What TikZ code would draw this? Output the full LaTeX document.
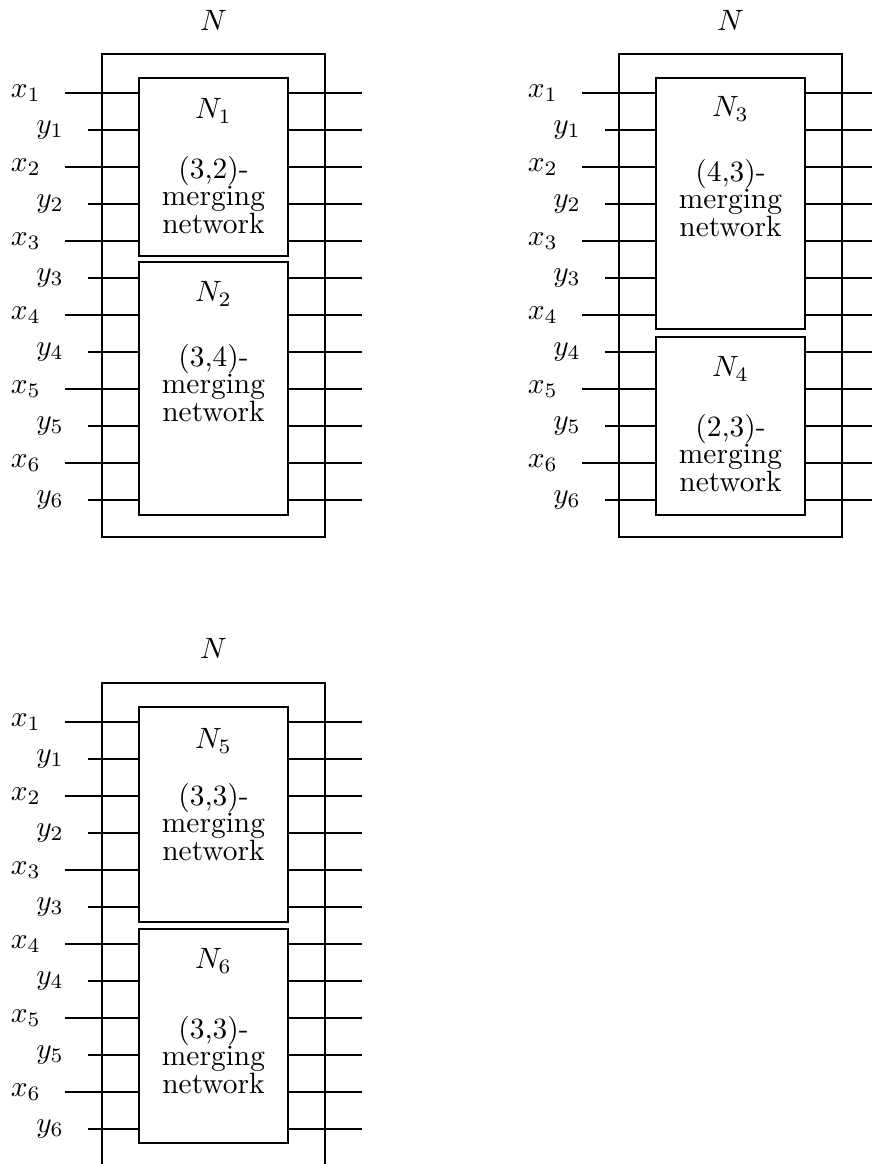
\documentclass[tikz,border=0pt]{standalone}
\usetikzlibrary{positioning,fit,calc}

\tikzset{
  wire/.style={line width=0.75pt},
  outerbox/.style={draw, line width=0.8pt, inner sep=0pt},
  netbox/.style={draw, line width=0.8pt, inner sep=0pt},
  pinlabel/.style={inner sep=0pt},
  blocktext/.style={align=center, inner sep=0pt, anchor=north,
    font=\fontsize{10pt}{9.3pt}\selectfont}
}

\begin{document}
\begin{tikzpicture}[x=0.34pt,y=0.34pt]
    \path[use as bounding box] (0,-1164) rectangle (872,0);
    \clip (0,-1164) rectangle (872,0);

    % N = N1 + N2
    \begin{scope}
        \node[outerbox, fit={(102,-54) (325,-537)}] (a0) {};
        \node[pinlabel, above=7.5pt of a0.north] (aN) {$N$};
        \node[netbox, fit={(139,-78) (288,-256)}] (a1) {};
        \node[netbox, fit={(139,-262) (288,-515)}] (a2) {};
        \node[pinlabel] (a1N) at ($(a1.north)+(0,-34)$) {$N_1$};
        \node[blocktext] (a1t) at ($(a1.north)+(0,-79)$) {(3,2)-\\merging\\network};
        \node[pinlabel] (a2N) at ($(a2.north)+(0,-33)$) {$N_2$};
        \node[blocktext] (a2t) at ($(a2.north)+(0,-83)$) {(3,4)-\\merging\\network};
        \foreach \i in {1,...,6} {
            \coordinate (ax\i) at (65,{-93-74*(\i-1)});
            \coordinate (ay\i) at (88,{-130-74*(\i-1)});
            \node[pinlabel, left=8pt of ax\i] (axl\i) {$x_{\i}$};
            \node[pinlabel, left=8pt of ay\i] (ayl\i) {$y_{\i}$};
            \draw[wire] (ax\i) -- (ax\i -| a1.west);
            \draw[wire] (ay\i) -- (ay\i -| a1.west);
        }
        \foreach \k in {1,...,12} {
            \coordinate (ao\k) at (362,{-93-37*(\k-1)});
            \draw[wire] (ao\k -| a1.east) -- (ao\k);
        }
    \end{scope}

    % N = N3 + N4
    \begin{scope}[shift={(517,0)}]
        \node[outerbox, fit={(102,-54) (325,-537)}] (b0) {};
        \node[pinlabel, above=7.5pt of b0.north] (bN) {$N$};
        \node[netbox, fit={(139,-78) (288,-329)}] (b1) {};
        \node[netbox, fit={(139,-337) (288,-515)}] (b2) {};
        \node[pinlabel] (b1N) at ($(b1.north)+(0,-32)$) {$N_3$};
        \node[blocktext] (b1t) at ($(b1.north)+(0,-82)$) {(4,3)-\\merging\\network};
        \node[pinlabel] (b2N) at ($(b2.north)+(0,-33)$) {$N_4$};
        \node[blocktext] (b2t) at ($(b2.north)+(0,-78)$) {(2,3)-\\merging\\network};
        \foreach \i in {1,...,6} {
            \coordinate (bx\i) at (65,{-93-74*(\i-1)});
            \coordinate (by\i) at (88,{-130-74*(\i-1)});
            \node[pinlabel, left=8pt of bx\i] (bxl\i) {$x_{\i}$};
            \node[pinlabel, left=8pt of by\i] (byl\i) {$y_{\i}$};
            \draw[wire] (bx\i) -- (bx\i -| b1.west);
            \draw[wire] (by\i) -- (by\i -| b1.west);
        }
        \foreach \k in {1,...,12} {
            \coordinate (bo\k) at (362,{-93-37*(\k-1)});
            \draw[wire] (bo\k -| b1.east) -- (bo\k);
        }
    \end{scope}

    % N = N5 + N6
    \begin{scope}[shift={(0,-629)}]
        \node[outerbox, fit={(102,-54) (325,-537)}] (c0) {};
        \node[pinlabel, above=7.8pt of c0.north] (cN) {$N$};
        \node[netbox, fit={(139,-78) (288,-293)}] (c1) {};
        \node[netbox, fit={(139,-300) (288,-514)}] (c2) {};
        \node[pinlabel] (c1N) at ($(c1.north)+(0,-35)$) {$N_5$};
        \node[blocktext] (c1t) at ($(c1.north)+(0,-77)$) {(3,3)-\\merging\\network};
        \node[pinlabel] (c2N) at ($(c2.north)+(0,-33)$) {$N_6$};
        \node[blocktext] (c2t) at ($(c2.north)+(0,-88)$) {(3,3)-\\merging\\network};
        \foreach \i in {1,...,6} {
            \coordinate (cx\i) at (65,{-93-74*(\i-1)});
            \coordinate (cy\i) at (88,{-130-74*(\i-1)});
            \node[pinlabel, left=8pt of cx\i] (cxl\i) {$x_{\i}$};
            \node[pinlabel, left=8pt of cy\i] (cyl\i) {$y_{\i}$};
            \draw[wire] (cx\i) -- (cx\i -| c1.west);
            \draw[wire] (cy\i) -- (cy\i -| c1.west);
        }
        \foreach \k in {1,...,12} {
            \coordinate (co\k) at (362,{-93-37*(\k-1)});
            \draw[wire] (co\k -| c1.east) -- (co\k);
        }
    \end{scope}
\end{tikzpicture}
\end{document}
